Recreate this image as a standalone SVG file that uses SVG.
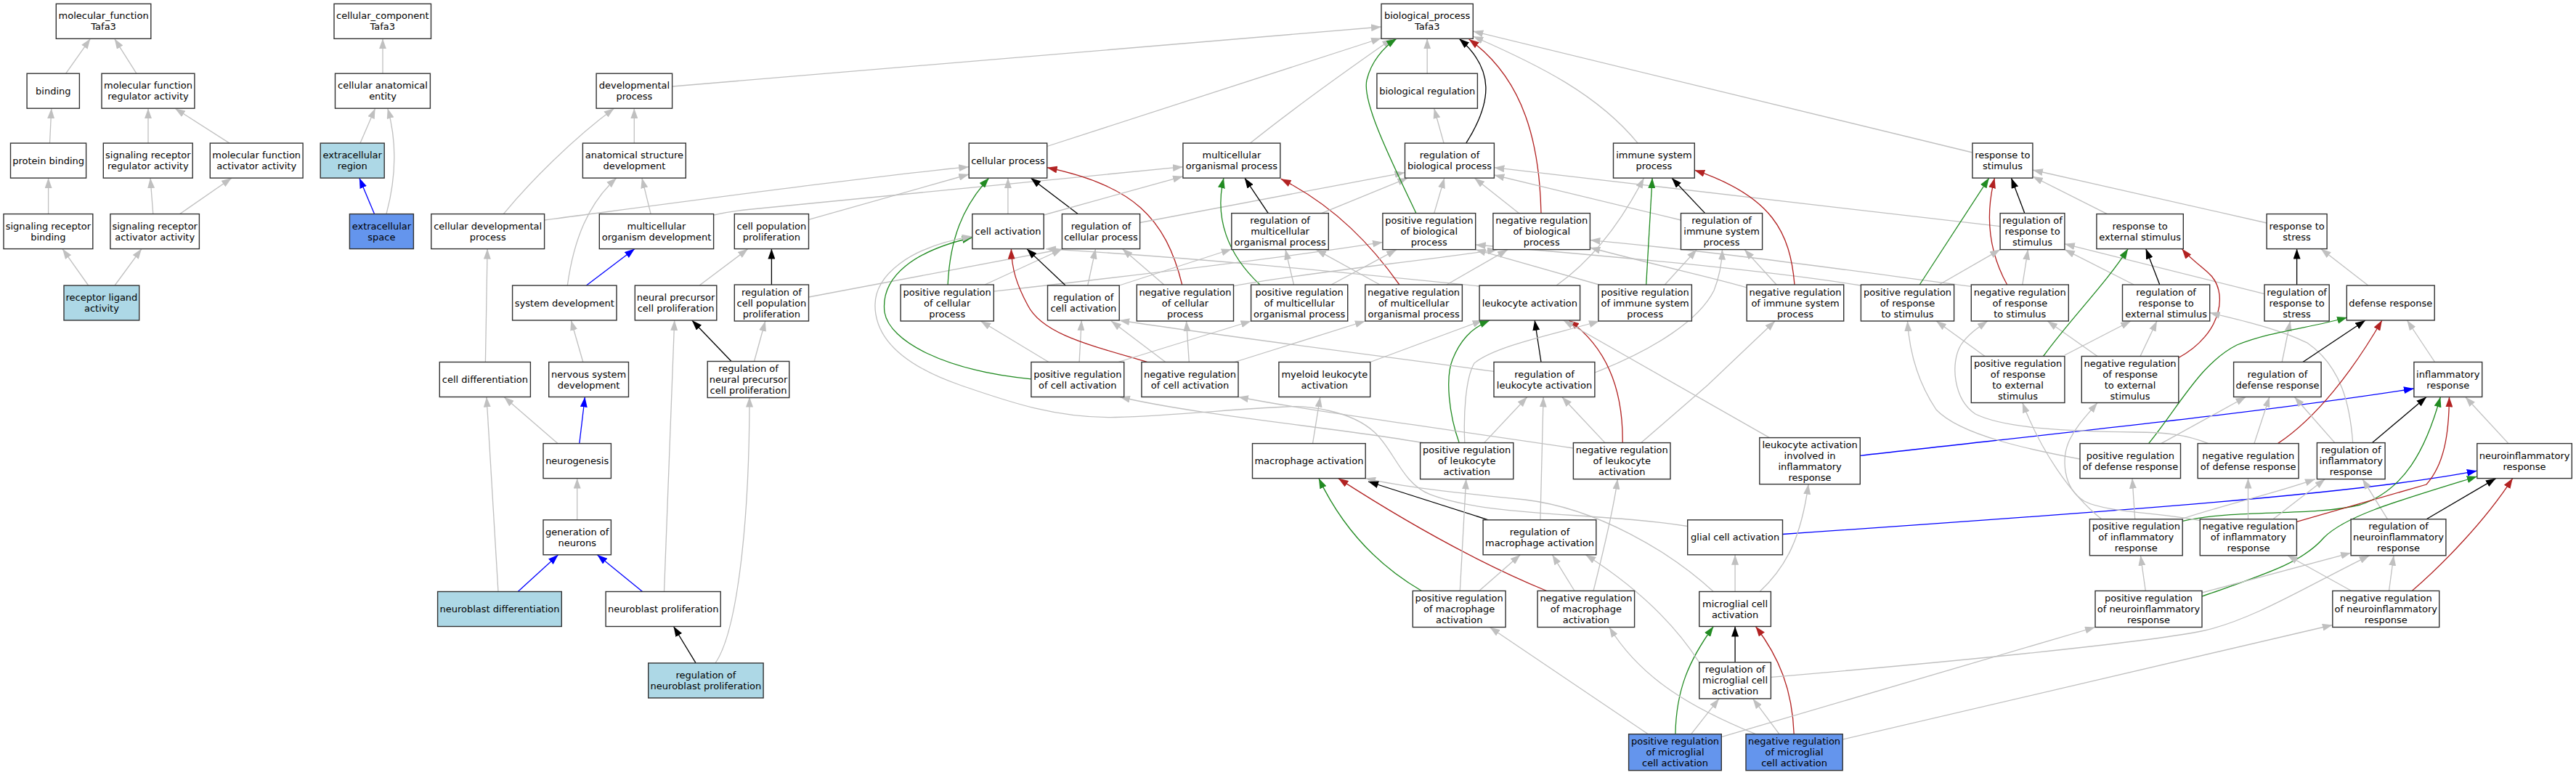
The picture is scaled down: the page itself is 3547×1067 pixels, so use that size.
<svg xmlns="http://www.w3.org/2000/svg" width="3547" height="1067" viewBox="0 0 3547 1067">
<style>
text{font-family:"DejaVu Sans","Liberation Sans",sans-serif;font-size:13px;text-anchor:middle;fill:#000}
.n rect{fill:#fff;stroke:#333;stroke-width:1.4}
.n.lb rect{fill:#add8e6}
.n.cb rect{fill:#6495ed}
#edges path{fill:none;stroke-width:1.3}
.g{stroke:#c0c0c0;marker-end:url(#ag)}
.k{stroke:#000;marker-end:url(#ak)}
.b{stroke:#0000ff;marker-end:url(#ab)}
.v{stroke:#228b22;marker-end:url(#av)}
.r{stroke:#b22222;marker-end:url(#ar)}
</style>
<defs>
<marker id="ag" viewBox="0 0 14 10" refX="14" refY="5" markerWidth="14" markerHeight="10" markerUnits="userSpaceOnUse" orient="auto"><path d="M0,0L14,5L0,10z" fill="#c0c0c0"/></marker>
<marker id="ak" viewBox="0 0 14 10" refX="14" refY="5" markerWidth="14" markerHeight="10" markerUnits="userSpaceOnUse" orient="auto"><path d="M0,0L14,5L0,10z" fill="#000"/></marker>
<marker id="ab" viewBox="0 0 14 10" refX="14" refY="5" markerWidth="14" markerHeight="10" markerUnits="userSpaceOnUse" orient="auto"><path d="M0,0L14,5L0,10z" fill="#0000ff"/></marker>
<marker id="av" viewBox="0 0 14 10" refX="14" refY="5" markerWidth="14" markerHeight="10" markerUnits="userSpaceOnUse" orient="auto"><path d="M0,0L14,5L0,10z" fill="#228b22"/></marker>
<marker id="ar" viewBox="0 0 14 10" refX="14" refY="5" markerWidth="14" markerHeight="10" markerUnits="userSpaceOnUse" orient="auto"><path d="M0,0L14,5L0,10z" fill="#b22222"/></marker>
</defs>
<rect width="3547" height="1067" fill="#fff"/>
<g id="edges">
<path class="g" d="M90.7,101.2L124.4,53.3"/>
<path class="g" d="M187.9,101.2L157.7,53.3"/>
<path class="g" d="M68.5,197.1L70.8,149.2"/>
<path class="g" d="M204,197.1L204,149.2"/>
<path class="g" d="M316,197.1L241,149.2"/>
<path class="g" d="M66.6,294.6L66.6,245.1"/>
<path class="g" d="M210.8,294.6L207,245.1"/>
<path class="g" d="M247.6,294.6L319,245.1"/>
<path class="g" d="M121.7,393L86,342.6"/>
<path class="g" d="M158,393L195,342.6"/>
<path class="g" d="M527,101.2L527,53.3"/>
<path class="g" d="M496,197.1L516.6,149.2"/>
<path class="g" d="M532,294.6C544,250 548,200 533.8,149.2"/>
<path class="b" d="M515.5,294.6L494.8,245.1"/>
<path class="g" d="M925.6,119L1902,37"/>
<path class="g" d="M873.3,197.1L873.3,149.2"/>
<path class="g" d="M693.3,294.6C730,250 790,190 845.6,149.2"/>
<path class="g" d="M749.6,303C1000,270 1200,243 1334.2,229.7"/>
<path class="g" d="M896.1,294.6L883.9,245.1"/>
<path class="g" d="M781.3,393C790,330 810,280 849,245.1"/>
<path class="b" d="M807.4,393L874,342.6"/>
<path class="g" d="M982.6,296C1000,292 1015,290 1030,288.5L1628.9,229.7"/>
<path class="g" d="M1113.5,302.4L1334.2,240"/>
<path class="g" d="M963,393L1030,342.6"/>
<path class="k" d="M1062.4,392L1062.4,342.6"/>
<path class="g" d="M1113.5,409L1462.4,343"/>
<path class="g" d="M668.4,498.5L671.1,342.6"/>
<path class="g" d="M802.8,498.5L786.3,441"/>
<path class="k" d="M1007,497.5L952.8,441"/>
<path class="g" d="M1038.5,497.5L1053.8,442"/>
<path class="g" d="M914.5,814.5C920,650 926,520 928.7,441"/>
<path class="g" d="M686,814.5L670,546.5"/>
<path class="g" d="M768,610.6L694,546.5"/>
<path class="b" d="M797.8,610.6L805.4,546.5"/>
<path class="g" d="M794.7,715.8L794.7,658.6"/>
<path class="b" d="M713.2,814.5L768.7,763.8"/>
<path class="b" d="M884.6,814.5L822.3,763.8"/>
<path class="k" d="M958.1,912.9L927.5,862.5"/>
<path class="g" d="M985,912.9C1015,870 1032,720 1032,546.5"/>
<path class="g" d="M1441.7,201.5L1902,52.5"/>
<path class="g" d="M1721.5,197.1C1780,150 1850,100 1917,53.3"/>
<path class="g" d="M1387.9,294.6L1387.9,245.1"/>
<path class="k" d="M1484.2,294.6L1419.2,245.1"/>
<path class="r" d="M1627.7,392C1605,300 1560,255 1441.7,230.7"/>
<path class="v" d="M1305.1,392C1308,330 1325,285 1361.8,245.1"/>
<path class="g" d="M1437.2,296L1628.9,242.8"/>
<path class="g" d="M1356,392L1462.4,343"/>
<path class="g" d="M1368.3,401.2C1600,375 1800,350 1903.9,333.4"/>
<path class="k" d="M1467.1,393L1413.8,342.6"/>
<path class="g" d="M1497.7,393L1508.6,342.6"/>
<path class="g" d="M1602.8,392L1545.4,342.6"/>
<path class="g" d="M1541.2,393L1695.8,343"/>
<path class="g" d="M2037.1,394C1850,375 1650,355 1440,342.6"/>
<path class="g" d="M1569.6,306.5L1934.5,237.6"/>
<path class="k" d="M1746.3,293.6L1713.8,245.1"/>
<path class="v" d="M1734.9,392C1690,350 1672,300 1685,245.1"/>
<path class="r" d="M1926.9,392C1890,340 1840,285 1763.6,246.2"/>
<path class="g" d="M1819.7,293.6L1938.4,245.1"/>
<path class="g" d="M1781.5,392L1770,343.6"/>
<path class="g" d="M1900.1,392L1812.1,343.6"/>
<path class="g" d="M1833.1,392L1923.1,343.6"/>
<path class="g" d="M1991.9,392L2076.1,343.6"/>
<path class="g" d="M2202,392L2031.7,343.6"/>
<path class="g" d="M2562.4,393C2450,375 2300,360 2031.7,337"/>
<path class="g" d="M2405.2,396C2370,385 2300,370 2189.4,341"/>
<path class="g" d="M2714.3,394.3C2600,380 2400,350 2189.4,330.6"/>
<path class="g" d="M1698.5,393.8C1780,378 1950,360 2062,343.6"/>
<path class="v" d="M1949.9,293.6C1915,220 1875,140 1882,110C1888,85 1905,65 1923.1,53.3"/>
<path class="g" d="M1965.2,101.2L1965.2,53.3"/>
<path class="g" d="M1988.1,197.1L1974.7,149.2"/>
<path class="k" d="M2018.7,197.1C2055,140 2058,95 2009.2,53.3"/>
<path class="g" d="M1974.7,293.6L1988.9,245.1"/>
<path class="g" d="M2091.4,293.6L2030.2,245.1"/>
<path class="r" d="M2122,293.6C2120,200 2100,110 2022.6,54"/>
<path class="g" d="M2255.2,197.1C2200,130 2120,90 2028.3,50"/>
<path class="g" d="M2715.9,210L2028.3,43"/>
<path class="g" d="M2754.1,311.7L2057.4,230.7"/>
<path class="g" d="M2314.5,303L2057.4,241"/>
<path class="g" d="M2143.1,393C2190,360 2230,310 2263.6,245.1"/>
<path class="v" d="M2266.7,392L2275.1,245.1"/>
<path class="k" d="M2347.8,293.6L2301.9,245.1"/>
<path class="r" d="M2471,392C2465,320 2440,270 2333.3,234.2"/>
<path class="g" d="M2292.3,392L2336.3,343.6"/>
<path class="g" d="M2446.1,392L2402,343.6"/>
<path class="g" d="M2195.9,513C2280,480 2340,440 2360,400C2368,380 2371,360 2371.5,343.6"/>
<path class="g" d="M1886.7,498.5L2041.6,441"/>
<path class="v" d="M2009.2,609.6C1995,570 1990,520 2000,495C2010,470 2025,452 2051.3,441"/>
<path class="k" d="M2122,498.5L2113.2,441"/>
<path class="r" d="M2234.2,609.6C2235,540 2215,480 2160.3,441"/>
<path class="g" d="M2436.5,602.6L2152.7,441"/>
<path class="g" d="M2057,511.4C1900,490 1700,465 1541.2,441"/>
<path class="g" d="M1444,498.5L1350.3,442"/>
<path class="g" d="M1486.1,498.5L1489.2,441"/>
<path class="v" d="M1419.9,521.8C1300,510 1225,470 1218,430C1212,380 1260,345 1338.8,327"/>
<path class="g" d="M2323.7,724.5C2200,705 2050,712 1969,680.7C1930,665 1920,620 1892.5,595C1860,565 1800,558 1770,560C1700,563 1620,572 1535.9,574.5C1450,576 1380,550 1321.6,530C1250,505 1205,470 1204.9,420.2C1205,380 1250,340 1338.8,325.4"/>
<path class="g" d="M2359.3,814.5C2300,760 2200,700 2100,688C2000,678 1930,670 1880.2,658.6"/>
<path class="g" d="M1807.5,610.6L1817.8,546.5"/>
<path class="k" d="M2049.3,715.8L1884,663"/>
<path class="v" d="M1957.5,813.5C1900,780 1850,730 1815.9,658.6"/>
<path class="r" d="M2129.7,813.5Q2000,760 1842.7,658.6"/>
<path class="g" d="M2036.7,813.5L2093.4,763.8"/>
<path class="g" d="M2168,813.5L2137.4,763.8"/>
<path class="g" d="M2010.3,813.5L2018.7,659.6"/>
<path class="g" d="M2194,813.5C2210,750 2222,700 2227.3,659.6"/>
<path class="g" d="M2043.6,609.6L2102.9,546.5"/>
<path class="g" d="M2210,609.6L2150.7,546.5"/>
<path class="g" d="M2120.9,715.8L2125.1,546.5"/>
<path class="g" d="M2016.8,609.6C2015,570 2018,520 2030,500C2060,475 2150,458 2202,442"/>
<path class="g" d="M2259.8,609.6L2351.6,530L2444.2,442"/>
<path class="g" d="M1961.3,610C1850,590 1650,572 1542,546.5"/>
<path class="g" d="M2166.4,617C1950,585 1800,565 1705,546.5"/>
<path class="g" d="M1604.8,498.5L1530.1,442"/>
<path class="g" d="M1637.3,498.5L1633.5,442"/>
<path class="r" d="M1579.9,498.5C1500,475 1435,460 1415,420C1400,392 1393,370 1392.4,342.6"/>
<path class="g" d="M1539.7,498.5L1722.6,442"/>
<path class="g" d="M1700,498.5L1879.8,442"/>
<path class="b" d="M2561.3,627.3C2800,600 3100,570 3323.9,535"/>
<path class="b" d="M2454.5,735.5C2900,705 3250,680 3410.8,648.2"/>
<path class="g" d="M2389.1,814.5L2389.1,763.8"/>
<path class="g" d="M2423.1,814.5C2460,780 2480,740 2490.1,666.6"/>
<path class="k" d="M2389.1,911.9L2389.1,862.5"/>
<path class="r" d="M2470.2,1010.7C2468,950 2450,905 2417.4,862.5"/>
<path class="g" d="M2449.9,1010.7L2413.6,961.9"/>
<path class="g" d="M2328.7,1010.7L2367,961.9"/>
<path class="v" d="M2306.9,1010.7C2308,950 2325,910 2359.3,862.5"/>
<path class="g" d="M2269.4,1010.7L2051.3,863.5"/>
<path class="g" d="M2417.4,1010.7C2330,975 2260,935 2215.9,863.5"/>
<path class="g" d="M2339.8,912C2300,850 2240,800 2183.3,763.8"/>
<path class="g" d="M2370.3,1014.6L2885,863.5"/>
<path class="g" d="M2438.4,932.4C2700,910 2950,885 3031,869C3100,855 3180,805 3262.7,764.8"/>
<path class="g" d="M2537.2,1018L3211.8,860.5"/>
<path class="g" d="M3121.1,307L2798.9,234"/>
<path class="v" d="M2643.2,392L2738.8,245.1"/>
<path class="r" d="M2763.7,392C2735,340 2735,290 2746.5,245.1"/>
<path class="k" d="M2787.8,293.6L2769.4,245.1"/>
<path class="g" d="M2901.5,294.6L2798.9,243"/>
<path class="g" d="M2670,392L2754.1,343.6"/>
<path class="g" d="M2784.8,392L2792.4,343.6"/>
<path class="g" d="M2938.3,392L2842.9,343.6"/>
<path class="g" d="M3118,404.6L2842.9,335.8"/>
<path class="g" d="M2733.1,490.5L2666.1,442"/>
<path class="g" d="M2842.9,489L2934,442"/>
<path class="g" d="M2888,490.5L2819.2,442"/>
<path class="g" d="M2947,490.5L2970,442"/>
<path class="v" d="M2813.5,490.5C2850,440 2900,390 2930.2,342.6"/>
<path class="k" d="M2973.8,392L2954.7,342.6"/>
<path class="r" d="M2999.8,492.5C3060,460 3070,400 3040,375C3025,362 3012,352 3004.4,342.6"/>
<path class="k" d="M3162.6,392L3162.6,342.6"/>
<path class="g" d="M3260.8,393L3195.7,342.6"/>
<path class="g" d="M3239.7,609.6C3236,560 3225,505 3176.6,471.8C3130,450 3080,440 3042.7,430.5"/>
<path class="g" d="M3142.2,498.5L3153.6,442"/>
<path class="k" d="M3170.9,498.5L3257,441"/>
<path class="v" d="M2958.5,610.6C3000,560 3030,500 3080,475C3130,455 3180,452 3232,437"/>
<path class="r" d="M3136.4,610.6C3190,575 3240,510 3279.9,441"/>
<path class="g" d="M3352.6,498.5L3314.4,441"/>
<path class="g" d="M2975.7,610.6L3092.4,546.5"/>
<path class="g" d="M3103.9,610.6L3124.9,546.5"/>
<path class="g" d="M3214.9,609.6L3159.4,546.5"/>
<path class="k" d="M3266.5,609.6L3341.1,546.5"/>
<path class="v" d="M3004.4,717.7C3080,700 3180,712 3250,695C3310,675 3340,620 3360.3,546.5"/>
<path class="r" d="M3162.4,718.4L3341,667C3365,640 3372,600 3372.5,546.5"/>
<path class="g" d="M3454,610.6L3394.7,546.5"/>
<path class="g" d="M3129.9,714.8L3201.5,659.6"/>
<path class="g" d="M3095.5,714.8L3095.5,658.6"/>
<path class="g" d="M3005.2,714C3080,690 3130,680 3188,659.6"/>
<path class="g" d="M3287.6,714.8L3253.1,659.6"/>
<path class="k" d="M3341.1,714.8L3436.8,658.6"/>
<path class="v" d="M3032,821.1C3120,790 3170,775 3200,740C3230,710 3300,690 3410.8,656"/>
<path class="r" d="M3321.2,813.5C3360,780 3420,720 3459.8,658.6"/>
<path class="g" d="M3289.5,813.5L3296,764.8"/>
<path class="g" d="M3237.8,813.5L3149.8,764.8"/>
<path class="g" d="M3032,816L3237.1,761.2"/>
<path class="g" d="M2954.3,813.5L2947.4,764.8"/>
<path class="g" d="M2939.7,714.8L2936,658.6"/>
<path class="g" d="M2893.8,714.8C2850,680 2810,620 2784.8,554.5"/>
<path class="g" d="M3029.3,716.7C2980,706 2900,706 2870,690C2840,672 2838,630 2850,605C2860,585 2875,570 2888,554.5"/>
<path class="g" d="M2864,632C2800,620 2700,600 2666,564C2650,540 2630,500 2626.5,442"/>
<path class="g" d="M3040.8,610.6C3010,598 2980,595 2940,595C2850,594 2760,590 2720,570C2690,550 2685,500 2700,475C2710,460 2725,450 2736.9,442"/>
</g>
<g id="n_mf" class="n"><rect x="77.3" y="5.3" width="130.5" height="48"/><text x="142.6" y="26.3">molecular_function</text><text x="142.6" y="41.3">Tafa3</text></g>
<g id="n_binding" class="n"><rect x="37.1" y="101.2" width="72.3" height="48"/><text x="73.3" y="129.7">binding</text></g>
<g id="n_mfreg" class="n"><rect x="140" y="101.2" width="127.9" height="48"/><text x="204" y="122.2">molecular function</text><text x="204" y="137.2">regulator activity</text></g>
<g id="n_protbind" class="n"><rect x="14.5" y="197.1" width="104.1" height="48"/><text x="66.6" y="225.6">protein binding</text></g>
<g id="n_srreg" class="n"><rect x="142.3" y="197.1" width="122.9" height="48"/><text x="203.8" y="218.1">signaling receptor</text><text x="203.8" y="233.1">regulator activity</text></g>
<g id="n_mfact" class="n"><rect x="289.3" y="197.1" width="127.8" height="48"/><text x="353.2" y="218.1">molecular function</text><text x="353.2" y="233.1">activator activity</text></g>
<g id="n_srbind" class="n"><rect x="5" y="294.6" width="122.8" height="48"/><text x="66.4" y="315.6">signaling receptor</text><text x="66.4" y="330.6">binding</text></g>
<g id="n_sract" class="n"><rect x="151.9" y="294.6" width="122.5" height="48"/><text x="213.2" y="315.6">signaling receptor</text><text x="213.2" y="330.6">activator activity</text></g>
<g id="n_rligand" class="n lb"><rect x="88" y="393" width="103.7" height="48"/><text x="139.9" y="414">receptor ligand</text><text x="139.9" y="429">activity</text></g>
<g id="n_cc" class="n"><rect x="460" y="5.3" width="133.5" height="48"/><text x="526.8" y="26.3">cellular_component</text><text x="526.8" y="41.3">Tafa3</text></g>
<g id="n_cae" class="n"><rect x="461.5" y="101.2" width="130.9" height="48"/><text x="527" y="122.2">cellular anatomical</text><text x="527" y="137.2">entity</text></g>
<g id="n_ecr" class="n lb"><rect x="441.2" y="197.1" width="88" height="48"/><text x="485.2" y="218.1">extracellular</text><text x="485.2" y="233.1">region</text></g>
<g id="n_ecs" class="n cb"><rect x="481.4" y="294.6" width="88" height="48"/><text x="525.4" y="315.6">extracellular</text><text x="525.4" y="330.6">space</text></g>
<g id="n_dev" class="n"><rect x="821.1" y="101.2" width="104.5" height="48"/><text x="873.4" y="122.2">developmental</text><text x="873.4" y="137.2">process</text></g>
<g id="n_asd" class="n"><rect x="802.4" y="197.1" width="141.9" height="48"/><text x="873.4" y="218.1">anatomical structure</text><text x="873.4" y="233.1">development</text></g>
<g id="n_cdp" class="n"><rect x="593.8" y="294.6" width="155.8" height="48"/><text x="671.7" y="315.6">cellular developmental</text><text x="671.7" y="330.6">process</text></g>
<g id="n_mod" class="n"><rect x="825.3" y="294.6" width="157.3" height="48"/><text x="904" y="315.6">multicellular</text><text x="904" y="330.6">organism development</text></g>
<g id="n_cpp" class="n"><rect x="1011.3" y="294.6" width="102.2" height="48"/><text x="1062.4" y="315.6">cell population</text><text x="1062.4" y="330.6">proliferation</text></g>
<g id="n_sysdev" class="n"><rect x="705.6" y="393" width="143.4" height="48"/><text x="777.3" y="421.5">system development</text></g>
<g id="n_npcp" class="n"><rect x="874.3" y="393" width="112.5" height="48"/><text x="930.6" y="414">neural precursor</text><text x="930.6" y="429">cell proliferation</text></g>
<g id="n_rcpp" class="n"><rect x="1011.3" y="392" width="102.2" height="50"/><text x="1062.4" y="406.5">regulation of</text><text x="1062.4" y="421.5">cell population</text><text x="1062.4" y="436.5">proliferation</text></g>
<g id="n_celldiff" class="n"><rect x="605.3" y="498.5" width="125.1" height="48"/><text x="667.9" y="527">cell differentiation</text></g>
<g id="n_nsd" class="n"><rect x="755.7" y="498.5" width="109.8" height="48"/><text x="810.6" y="519.5">nervous system</text><text x="810.6" y="534.5">development</text></g>
<g id="n_rnpcp" class="n"><rect x="974.2" y="497.5" width="112.5" height="50"/><text x="1030.5" y="512">regulation of</text><text x="1030.5" y="527">neural precursor</text><text x="1030.5" y="542">cell proliferation</text></g>
<g id="n_neurog" class="n"><rect x="748" y="610.6" width="93.4" height="48"/><text x="794.7" y="639.1">neurogenesis</text></g>
<g id="n_gon" class="n"><rect x="748" y="715.8" width="93.4" height="48"/><text x="794.7" y="736.8">generation of</text><text x="794.7" y="751.8">neurons</text></g>
<g id="n_nbd" class="n lb"><rect x="602.6" y="814.5" width="170.7" height="48"/><text x="688" y="843">neuroblast differentiation</text></g>
<g id="n_nbp" class="n"><rect x="834.1" y="814.5" width="158.1" height="48"/><text x="913.2" y="843">neuroblast proliferation</text></g>
<g id="n_rnbp" class="n lb"><rect x="892.7" y="912.9" width="158.4" height="48"/><text x="971.9" y="933.9">regulation of</text><text x="971.9" y="948.9">neuroblast proliferation</text></g>
<g id="n_bp" class="n"><rect x="1902" y="5.3" width="126.3" height="48"/><text x="1965.2" y="26.3">biological_process</text><text x="1965.2" y="41.3">Tafa3</text></g>
<g id="n_bioreg" class="n"><rect x="1895.9" y="101.2" width="138.5" height="48"/><text x="1965.2" y="129.7">biological regulation</text></g>
<g id="n_cellproc" class="n"><rect x="1334.2" y="197.1" width="107.5" height="48"/><text x="1388" y="225.6">cellular process</text></g>
<g id="n_mop" class="n"><rect x="1628.9" y="197.1" width="133.9" height="48"/><text x="1695.9" y="218.1">multicellular</text><text x="1695.9" y="233.1">organismal process</text></g>
<g id="n_rbp" class="n"><rect x="1934.5" y="197.1" width="122.9" height="48"/><text x="1996" y="218.1">regulation of</text><text x="1996" y="233.1">biological process</text></g>
<g id="n_isp" class="n"><rect x="2221.5" y="197.1" width="111.8" height="48"/><text x="2277.4" y="218.1">immune system</text><text x="2277.4" y="233.1">process</text></g>
<g id="n_rts" class="n"><rect x="2715.9" y="197.1" width="83" height="48"/><text x="2757.4" y="218.1">response to</text><text x="2757.4" y="233.1">stimulus</text></g>
<g id="n_cellact" class="n"><rect x="1338.8" y="294.6" width="98.4" height="48"/><text x="1388" y="323.1">cell activation</text></g>
<g id="n_rcp" class="n"><rect x="1462.4" y="294.6" width="107.2" height="48"/><text x="1516" y="315.6">regulation of</text><text x="1516" y="330.6">cellular process</text></g>
<g id="n_rmop" class="n"><rect x="1695.8" y="293.6" width="133.5" height="50"/><text x="1762.6" y="308.1">regulation of</text><text x="1762.6" y="323.1">multicellular</text><text x="1762.6" y="338.1">organismal process</text></g>
<g id="n_prbp" class="n"><rect x="1903.9" y="293.6" width="127.8" height="50"/><text x="1967.8" y="308.1">positive regulation</text><text x="1967.8" y="323.1">of biological</text><text x="1967.8" y="338.1">process</text></g>
<g id="n_nrbp" class="n"><rect x="2055.9" y="293.6" width="133.5" height="50"/><text x="2122.7" y="308.1">negative regulation</text><text x="2122.7" y="323.1">of biological</text><text x="2122.7" y="338.1">process</text></g>
<g id="n_risp" class="n"><rect x="2314.5" y="293.6" width="112.1" height="50"/><text x="2370.6" y="308.1">regulation of</text><text x="2370.6" y="323.1">immune system</text><text x="2370.6" y="338.1">process</text></g>
<g id="n_rrs" class="n"><rect x="2754.1" y="293.6" width="88.8" height="50"/><text x="2798.5" y="308.1">regulation of</text><text x="2798.5" y="323.1">response to</text><text x="2798.5" y="338.1">stimulus</text></g>
<g id="n_rext" class="n"><rect x="2886.9" y="294.6" width="119.4" height="48"/><text x="2946.6" y="315.6">response to</text><text x="2946.6" y="330.6">external stimulus</text></g>
<g id="n_rstress" class="n"><rect x="3121.1" y="294.6" width="83" height="48"/><text x="3162.6" y="315.6">response to</text><text x="3162.6" y="330.6">stress</text></g>
<g id="n_prcp" class="n"><rect x="1240.1" y="392" width="128.2" height="50"/><text x="1304.2" y="406.5">positive regulation</text><text x="1304.2" y="421.5">of cellular</text><text x="1304.2" y="436.5">process</text></g>
<g id="n_rca" class="n"><rect x="1442.5" y="393" width="98.7" height="48"/><text x="1491.9" y="414">regulation of</text><text x="1491.9" y="429">cell activation</text></g>
<g id="n_nrcp" class="n"><rect x="1565.3" y="392" width="133.2" height="50"/><text x="1631.9" y="406.5">negative regulation</text><text x="1631.9" y="421.5">of cellular</text><text x="1631.9" y="436.5">process</text></g>
<g id="n_prmop" class="n"><rect x="1722.6" y="392" width="133.1" height="50"/><text x="1789.2" y="406.5">positive regulation</text><text x="1789.2" y="421.5">of multicellular</text><text x="1789.2" y="436.5">organismal process</text></g>
<g id="n_nrmop" class="n"><rect x="1879.8" y="392" width="133.6" height="50"/><text x="1946.6" y="406.5">negative regulation</text><text x="1946.6" y="421.5">of multicellular</text><text x="1946.6" y="436.5">organismal process</text></g>
<g id="n_leukact" class="n"><rect x="2037.1" y="393" width="138.5" height="48"/><text x="2106.4" y="421.5">leukocyte activation</text></g>
<g id="n_prisp" class="n"><rect x="2200.9" y="392" width="128.5" height="50"/><text x="2265.2" y="406.5">positive regulation</text><text x="2265.2" y="421.5">of immune system</text><text x="2265.2" y="436.5">process</text></g>
<g id="n_nrisp" class="n"><rect x="2405.2" y="392" width="133.5" height="50"/><text x="2472" y="406.5">negative regulation</text><text x="2472" y="421.5">of immune system</text><text x="2472" y="436.5">process</text></g>
<g id="n_prrs" class="n"><rect x="2562.4" y="392" width="128.2" height="50"/><text x="2626.5" y="406.5">positive regulation</text><text x="2626.5" y="421.5">of response</text><text x="2626.5" y="436.5">to stimulus</text></g>
<g id="n_nrrs" class="n"><rect x="2714.3" y="392" width="134" height="50"/><text x="2781.3" y="406.5">negative regulation</text><text x="2781.3" y="421.5">of response</text><text x="2781.3" y="436.5">to stimulus</text></g>
<g id="n_rres" class="n"><rect x="2922.5" y="392" width="120.2" height="50"/><text x="2982.6" y="406.5">regulation of</text><text x="2982.6" y="421.5">response to</text><text x="2982.6" y="436.5">external stimulus</text></g>
<g id="n_rrstress" class="n"><rect x="3118" y="392" width="89.2" height="50"/><text x="3162.6" y="406.5">regulation of</text><text x="3162.6" y="421.5">response to</text><text x="3162.6" y="436.5">stress</text></g>
<g id="n_dr" class="n"><rect x="3231.3" y="393" width="120.9" height="48"/><text x="3291.8" y="421.5">defense response</text></g>
<g id="n_prca" class="n"><rect x="1419.9" y="498.5" width="127.8" height="48"/><text x="1483.8" y="519.5">positive regulation</text><text x="1483.8" y="534.5">of cell activation</text></g>
<g id="n_nrca" class="n"><rect x="1571.9" y="498.5" width="133.1" height="48"/><text x="1638.5" y="519.5">negative regulation</text><text x="1638.5" y="534.5">of cell activation</text></g>
<g id="n_myeloid" class="n"><rect x="1760.9" y="498.5" width="125.8" height="48"/><text x="1823.8" y="519.5">myeloid leukocyte</text><text x="1823.8" y="534.5">activation</text></g>
<g id="n_rla" class="n"><rect x="2057" y="498.5" width="138.9" height="48"/><text x="2126.5" y="519.5">regulation of</text><text x="2126.5" y="534.5">leukocyte activation</text></g>
<g id="n_prres" class="n"><rect x="2714.3" y="490.5" width="128.6" height="64"/><text x="2778.6" y="504.5">positive regulation</text><text x="2778.6" y="519.5">of response</text><text x="2778.6" y="534.5">to external</text><text x="2778.6" y="549.5">stimulus</text></g>
<g id="n_nrres" class="n"><rect x="2866.3" y="490.5" width="133.5" height="64"/><text x="2933.1" y="504.5">negative regulation</text><text x="2933.1" y="519.5">of response</text><text x="2933.1" y="534.5">to external</text><text x="2933.1" y="549.5">stimulus</text></g>
<g id="n_rdr" class="n"><rect x="3075.6" y="498.5" width="120.5" height="48"/><text x="3135.9" y="519.5">regulation of</text><text x="3135.9" y="534.5">defense response</text></g>
<g id="n_ir" class="n"><rect x="3323.9" y="498.5" width="93.8" height="48"/><text x="3370.8" y="519.5">inflammatory</text><text x="3370.8" y="534.5">response</text></g>
<g id="n_mact" class="n"><rect x="1724.5" y="610.6" width="155.7" height="48"/><text x="1802.4" y="639.1">macrophage activation</text></g>
<g id="n_prla" class="n"><rect x="1955.6" y="609.6" width="128.2" height="50"/><text x="2019.7" y="624.1">positive regulation</text><text x="2019.7" y="639.1">of leukocyte</text><text x="2019.7" y="654.1">activation</text></g>
<g id="n_nrla" class="n"><rect x="2166.4" y="609.6" width="133.6" height="50"/><text x="2233.2" y="624.1">negative regulation</text><text x="2233.2" y="639.1">of leukocyte</text><text x="2233.2" y="654.1">activation</text></g>
<g id="n_laiir" class="n"><rect x="2422.8" y="602.6" width="138.5" height="64"/><text x="2492.1" y="616.6">leukocyte activation</text><text x="2492.1" y="631.6">involved in</text><text x="2492.1" y="646.6">inflammatory</text><text x="2492.1" y="661.6">response</text></g>
<g id="n_prdr" class="n"><rect x="2864" y="610.6" width="138.5" height="48"/><text x="2933.3" y="631.6">positive regulation</text><text x="2933.3" y="646.6">of defense response</text></g>
<g id="n_nrdr" class="n"><rect x="3026.2" y="610.6" width="138.9" height="48"/><text x="3095.7" y="631.6">negative regulation</text><text x="3095.7" y="646.6">of defense response</text></g>
<g id="n_rir" class="n"><rect x="3190.4" y="609.6" width="93.7" height="50"/><text x="3237.3" y="624.1">regulation of</text><text x="3237.3" y="639.1">inflammatory</text><text x="3237.3" y="654.1">response</text></g>
<g id="n_ninfl" class="n"><rect x="3410.8" y="610.6" width="130.5" height="48"/><text x="3476.1" y="631.6">neuroinflammatory</text><text x="3476.1" y="646.6">response</text></g>
<g id="n_rma" class="n"><rect x="2042.1" y="715.8" width="155.7" height="48"/><text x="2120" y="736.8">regulation of</text><text x="2120" y="751.8">macrophage activation</text></g>
<g id="n_glial" class="n"><rect x="2323.7" y="715.8" width="130.8" height="48"/><text x="2389.1" y="744.3">glial cell activation</text></g>
<g id="n_prir" class="n"><rect x="2877.4" y="714.8" width="127.8" height="50"/><text x="2941.3" y="729.3">positive regulation</text><text x="2941.3" y="744.3">of inflammatory</text><text x="2941.3" y="759.3">response</text></g>
<g id="n_nrir" class="n"><rect x="3029.3" y="714.8" width="133.1" height="50"/><text x="3095.9" y="729.3">negative regulation</text><text x="3095.9" y="744.3">of inflammatory</text><text x="3095.9" y="759.3">response</text></g>
<g id="n_rninfl" class="n"><rect x="3237.1" y="714.8" width="130.8" height="50"/><text x="3302.5" y="729.3">regulation of</text><text x="3302.5" y="744.3">neuroinflammatory</text><text x="3302.5" y="759.3">response</text></g>
<g id="n_prma" class="n"><rect x="1945.3" y="813.5" width="127.8" height="50"/><text x="2009.2" y="828">positive regulation</text><text x="2009.2" y="843">of macrophage</text><text x="2009.2" y="858">activation</text></g>
<g id="n_nrma" class="n"><rect x="2117.1" y="813.5" width="133.5" height="50"/><text x="2183.9" y="828">negative regulation</text><text x="2183.9" y="843">of macrophage</text><text x="2183.9" y="858">activation</text></g>
<g id="n_mca" class="n"><rect x="2339.8" y="814.5" width="98.6" height="48"/><text x="2389.1" y="835.5">microglial cell</text><text x="2389.1" y="850.5">activation</text></g>
<g id="n_prninfl" class="n"><rect x="2885" y="813.5" width="147" height="50"/><text x="2958.5" y="828">positive regulation</text><text x="2958.5" y="843">of neuroinflammatory</text><text x="2958.5" y="858">response</text></g>
<g id="n_nrninfl" class="n"><rect x="3211.8" y="813.5" width="146.9" height="50"/><text x="3285.3" y="828">negative regulation</text><text x="3285.3" y="843">of neuroinflammatory</text><text x="3285.3" y="858">response</text></g>
<g id="n_rmca" class="n"><rect x="2339.8" y="911.9" width="98.6" height="50"/><text x="2389.1" y="926.4">regulation of</text><text x="2389.1" y="941.4">microglial cell</text><text x="2389.1" y="956.4">activation</text></g>
<g id="n_prmca" class="n cb"><rect x="2242.6" y="1010.7" width="127.7" height="50"/><text x="2306.5" y="1025.2">positive regulation</text><text x="2306.5" y="1040.2">of microglial</text><text x="2306.5" y="1055.2">cell activation</text></g>
<g id="n_nrmca" class="n cb"><rect x="2404" y="1010.7" width="133.2" height="50"/><text x="2470.6" y="1025.2">negative regulation</text><text x="2470.6" y="1040.2">of microglial</text><text x="2470.6" y="1055.2">cell activation</text></g>
</svg>
